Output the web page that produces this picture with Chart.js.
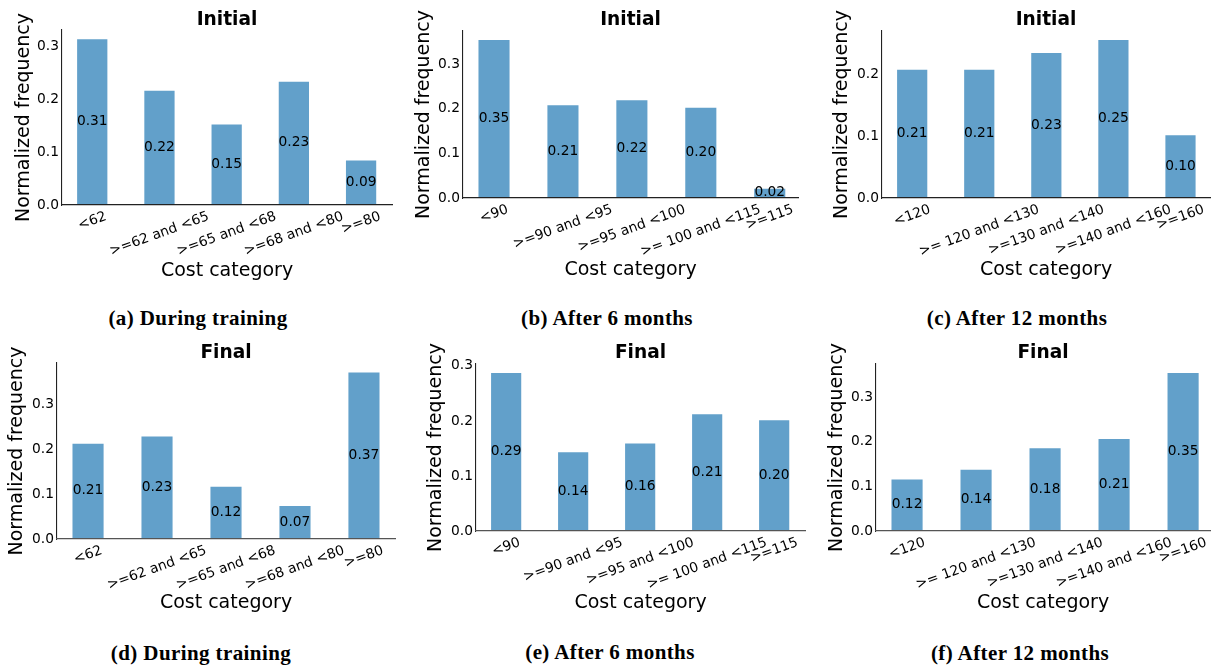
<!DOCTYPE html>
<html><head><meta charset="utf-8">
<script src="https://cdn.jsdelivr.net/npm/chart.js@4.4.1/dist/chart.umd.min.js"></script>
<style>
html,body{margin:0;padding:0;background:#fff;}
#page{position:relative;width:1211px;height:667px;overflow:hidden;background:#fff;}
canvas{position:absolute;}
.cap{position:absolute;font-family:"Liberation Serif",serif;font-weight:bold;font-size:21px;letter-spacing:0.4px;white-space:nowrap;transform:translate(-50%,-50%);color:#000;line-height:1;}
</style></head><body><div id="page"></div>
<script>
// ---- categories ----
const catTrain = ['<62', '>=62 and <65', '>=65 and <68', '>=68 and <80', '>=80'];
const cat6m = ['<90', '>=90 and <95', '>=95 and <100', '>= 100 and <115', '>=115'];
const cat12m = ['<120', '>= 120 and <130', '>=130 and <140', '>=140 and <160', '>=160'];

// ---- series values and their printed labels ----
const trainInitial = [0.315, 0.218, 0.154, 0.235, 0.086];
const trainInitialLabels = ['0.31', '0.22', '0.15', '0.23', '0.09'];
const m6Initial = [0.356, 0.210, 0.221, 0.204, 0.023];
const m6InitialLabels = ['0.35', '0.21', '0.22', '0.20', '0.02'];
const m12Initial = [0.209, 0.209, 0.236, 0.257, 0.103];
const m12InitialLabels = ['0.21', '0.21', '0.23', '0.25', '0.10'];
const trainFinal = [0.215, 0.231, 0.119, 0.076, 0.374];
const trainFinalLabels = ['0.21', '0.23', '0.12', '0.07', '0.37'];
const m6Final = [0.289, 0.145, 0.161, 0.214, 0.203];
const m6FinalLabels = ['0.29', '0.14', '0.16', '0.21', '0.20'];
const m12Final = [0.118, 0.140, 0.188, 0.209, 0.357];
const m12FinalLabels = ['0.12', '0.14', '0.18', '0.21', '0.35'];

// ---- text ----
const yTickStep = 0.1;
const xAxisTitle = 'Cost category';
const yAxisTitle = 'Normalized frequency';

// ---- panel layout (page coordinates) ----
const panels = [
  {title:'Initial', cats:catTrain, vals:trainInitial, labs:trainInitialLabels, cell:[0,0,400,300], area:[62,30,392,205], xmax:4.46, titleY:20, xTitleY:271, yTitleX:24, caption:'(a) During training', capX:198, capY:318, xAxisColor:'#222'},
  {title:'Initial', cats:cat6m, vals:m6Initial, labs:m6InitialLabels, cell:[400,0,410,300], area:[463,31,798,198], xmax:4.41, titleY:20, xTitleY:270, yTitleX:424, caption:'(b) After 6 months', capX:607, capY:318, xAxisColor:'#222'},
  {title:'Initial', cats:cat12m, vals:m12Initial, labs:m12InitialLabels, cell:[810,0,401,300], area:[882,31,1210,198], xmax:4.44, titleY:20, xTitleY:270, yTitleX:842, caption:'(c) After 12 months', capX:1017, capY:318, xAxisColor:'#222'},
  {title:'Final', cats:catTrain, vals:trainFinal, labs:trainFinalLabels, cell:[0,335,400,300], area:[57,363,395,539], xmax:4.45, titleY:353, xTitleY:603, yTitleX:17, caption:'(d) During training', capX:201, capY:653, xAxisColor:'#555'},
  {title:'Final', cats:cat6m, vals:m6Final, labs:m6FinalLabels, cell:[400,335,410,300], area:[476,364,805,531], xmax:4.46, titleY:353, xTitleY:603, yTitleX:436, caption:'(e) After 6 months', capX:610, capY:652, xAxisColor:'#555'},
  {title:'Final', cats:cat12m, vals:m12Final, labs:m12FinalLabels, cell:[810,335,401,300], area:[876,364,1210,531], xmax:4.39, titleY:353, xTitleY:603, yTitleX:837, caption:'(f) After 12 months', capX:1020, capY:653, xAxisColor:'#555'}
];

const FONT = '"DejaVu Sans"';
const page = document.getElementById('page');

function makeTextPlugin(p) {
  return {
    id: 'panelText',
    afterDraw(chart) {
      const ctx = chart.ctx;
      const xs = chart.scales.x, ys = chart.scales.y;
      const ca = chart.chartArea;
      const ox = p.cell[0], oy = p.cell[1];
      ctx.save();
      ctx.fillStyle = '#000';
      // value labels at half bar height
      ctx.font = '13.8px ' + FONT;
      ctx.textAlign = 'center';
      ctx.textBaseline = 'middle';
      p.vals.forEach((v, i) => {
        ctx.fillText(p.labs[i], xs.getPixelForValue(i), ys.getPixelForValue(v / 2));
      });
      // rotated category labels, centred on tick
      const th = 20 * Math.PI / 180;
      const h = 13.8 * 1.17;
      p.cats.forEach((c, i) => {
        const x = xs.getPixelForValue(i);
        const L = ctx.measureText(c).width;
        const H = L * Math.sin(th) + h * Math.cos(th);
        const cy = ca.bottom + 3.5 + H / 2;
        ctx.save();
        ctx.translate(x, cy);
        ctx.rotate(-th);
        ctx.fillText(c, 0, 0);
        ctx.restore();
      });
      const cx = (ca.left + ca.right) / 2;
      // title
      ctx.font = 'bold 18.6px ' + FONT;
      ctx.fillText(p.title, cx, p.titleY - oy);
      // x axis title
      ctx.font = '19px ' + FONT;
      ctx.fillText(xAxisTitle, cx, p.xTitleY - oy);
      // y axis title
      ctx.save();
      ctx.translate(p.yTitleX - ox, (ca.top + ca.bottom) / 2);
      ctx.rotate(-Math.PI / 2);
      ctx.fillText(yAxisTitle, 0, 0);
      ctx.restore();
      ctx.restore();
    }
  };
}

panels.forEach(p => {
  const [cx, cy, cw, chh] = p.cell;
  const [L, T, R, B] = p.area;
  const cv = document.createElement('canvas');
  cv.width = cw; cv.height = chh;
  cv.style.left = cx + 'px'; cv.style.top = cy + 'px';
  cv.style.width = cw + 'px'; cv.style.height = chh + 'px';
  page.appendChild(cv);

  const cap = document.createElement('div');
  cap.className = 'cap';
  cap.textContent = p.caption;
  cap.style.left = p.capX + 'px'; cap.style.top = p.capY + 'px';
  page.appendChild(cap);

  const yW = L - cx;
  const ymax = Math.max(...p.vals) * 1.05;
  new Chart(cv, {
    type: 'bar',
    data: {
      datasets: [{
        data: p.vals.map((v, i) => ({x: i, y: v})),
        backgroundColor: 'rgba(31,119,180,0.7)',
        borderColor: 'rgba(255,255,255,0.45)',
        borderWidth: 1,
        barPercentage: 0.48,
        categoryPercentage: 1
      }]
    },
    options: {
      responsive: false,
      animation: false,
      events: [],
      devicePixelRatio: 1,
      layout: {padding: {left: 0, top: T - cy, right: cx + cw - R, bottom: cy + chh - B}},
      plugins: {legend: {display: false}, title: {display: false}, tooltip: {enabled: false}},
      scales: {
        x: {
          type: 'linear', min: -0.45, max: p.xmax, offset: false,
          grid: {display: false, drawTicks: false},
          border: {display: true, color: p.xAxisColor, width: 1.3, z: 1},
          ticks: {display: false},
          afterFit: s => { s.height = 0; }
        },
        y: {
          min: 0, max: ymax,
          grid: {display: false, drawTicks: false},
          border: {display: true, color: '#222', width: 1.1},
          ticks: {stepSize: yTickStep, includeBounds: false, padding: 3, color: '#000',
                  font: {family: 'DejaVu Sans', size: 13.8},
                  callback: v => Number(v).toFixed(1)},
          afterFit: s => { s.width = yW; }
        }
      }
    },
    plugins: [makeTextPlugin(p)]
  });
});
</script></body></html>
